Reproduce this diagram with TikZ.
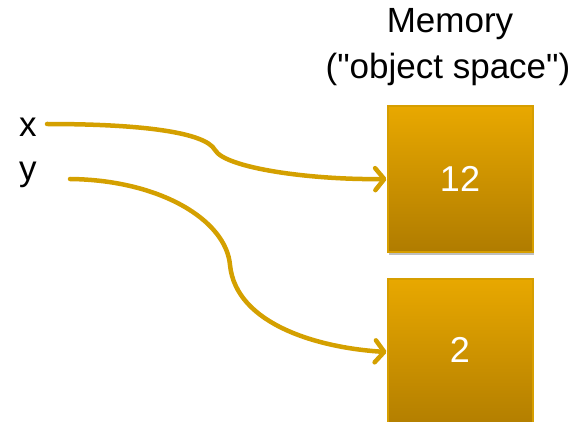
\documentclass[tikz,border=0pt]{standalone}
\usepackage{fontspec}
\setmainfont{Liberation Sans}[Ligatures=TeXOff]
\usetikzlibrary{arrows.meta,shadows}
\definecolor{linegold}{RGB}{212,160,0}
\definecolor{boxtop}{RGB}{232,168,0}
\definecolor{boxbot}{RGB}{176,124,0}
\definecolor{boxedge}{RGB}{214,158,0}
\begin{document}
\begin{tikzpicture}[x=1pt,y=-1pt,
  lbl/.style={font=\fontsize{35}{42}\selectfont, inner sep=0pt},
  membox/.style={draw=boxedge, line width=2pt, top color=boxtop, bottom color=boxbot,
     minimum width=145pt, minimum height=145pt, inner sep=0pt, text=white,
     font=\fontsize{36}{42}\selectfont,
     drop shadow={shadow xshift=1pt, shadow yshift=-3pt, opacity=0.25, fill=black}},
  ptr/.style={draw=linegold, line width=4.5pt, line cap=round,
     -{Straight Barb[length=9pt,width=22pt,round]}}]
\useasboundingbox (0,0) rectangle (578,422);
\node[lbl, anchor=center] (title1) at (450,24) {Memory};
\node[lbl, anchor=center] (title2) at (448,69) {("object space")};
\node[lbl] (xl) at (28,127) {x};
\node[lbl] (yl) at (28,175) {y};
\node[membox] (b12) at (460,179) {12};
\node[membox, minimum height=155pt, text depth=12pt] (b2) at (460,356) {2};
\coordinate (xs) at (47,124);
\coordinate (ys) at (70,179);
\coordinate (k1) at (215,150);
\coordinate (k2) at (230,265);
\draw[ptr] (xs) .. controls (140,124) and (205,132) .. (k1)
  .. controls (225,168) and (310,180) .. (b12.west);
\draw[ptr] (ys) .. controls (160,180) and (226,220) .. (k2)
  .. controls (236,325) and (320,348) .. ([yshift=4pt]b2.west);
\end{tikzpicture}
\end{document}
